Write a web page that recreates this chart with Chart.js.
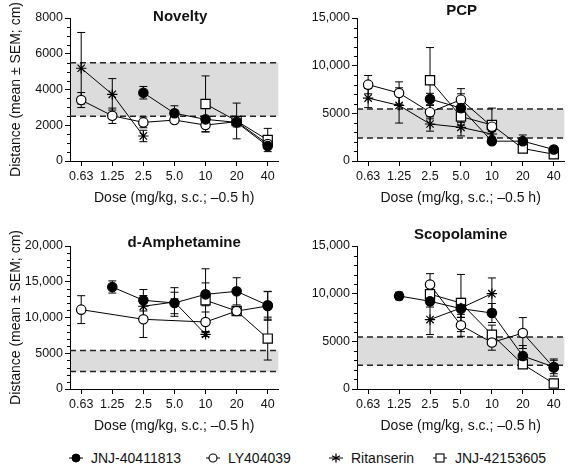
<!DOCTYPE html>
<html><head><meta charset="utf-8">
<script src="https://cdn.jsdelivr.net/npm/chart.js@4/dist/chart.umd.min.js"></script>
<style>
html,body{margin:0;padding:0;background:#fff;}
body{width:572px;height:468px;position:relative;overflow:hidden;font-family:"Liberation Sans",Arial,sans-serif;color:#111;}
.panel{position:absolute;width:286px;height:215px;}
.lg{position:absolute;top:449px;height:18px;display:flex;align-items:center;font-size:14px;white-space:nowrap;}
.lg svg{margin-right:5px;}
</style>
</head><body>
<div class="panel" style="left:0;top:0"><canvas id="c0" width="286" height="215"></canvas></div>
<div class="panel" style="left:286px;top:0"><canvas id="c1" width="286" height="215"></canvas></div>
<div class="panel" style="left:0;top:228px"><canvas id="c2" width="286" height="215"></canvas></div>
<div class="panel" style="left:286px;top:228px"><canvas id="c3" width="286" height="215"></canvas></div>
<div id="legend"></div>
<script>
// ---------- data ----------
const doses = ['0.63', '1.25', '2.5', '5.0', '10', '20', '40'];
const seriesNames = ['JNJ-40411813', 'LY404039', 'Ritanserin', 'JNJ-42153605'];
const panelTitles = ['Novelty', 'PCP', 'd-Amphetamine', 'Scopolamine'];
const xTitle = 'Dose (mg/kg, s.c.; \u20130.5 h)';
const yTitle = 'Distance (mean \u00b1 SEM; cm)';

// Novelty
const noveltyJNJ40411813    = [null, null, 3820, 2670, 2330, 2160, 840];
const noveltyJNJ40411813Sem = [null, null, 350, 420, 150, 250, 100];
const noveltyLY404039       = [3410, 2530, 2160, 2290, 2010, 2200, 950];
const noveltyLY404039Sem    = [420, 430, 300, 100, 370, 200, 150];
const noveltyRitanserin     = [5190, 3730, 1400, null, null, null, null];
const noveltyRitanserinSem  = [2000, 880, 320, null, null, null, null];
const noveltyJNJ42153605    = [null, null, null, null, 3190, 2240, 1175];
const noveltyJNJ42153605Sem = [null, null, null, null, 1570, 1000, 650];
const noveltyBand = [2500, 5500];

// PCP
const pcpJNJ40411813    = [null, null, 6500, 5550, 2080, 2080, 1200];
const pcpJNJ40411813Sem = [null, null, 600, 1500, 200, 650, 150];
const pcpLY404039       = [8010, 7130, 5120, 6430, 3600, null, null];
const pcpLY404039Sem    = [960, 1170, 700, 1160, 500, null, null];
const pcpRitanserin     = [6600, 5830, 3880, 3530, 2830, null, null];
const pcpRitanserinSem  = [1000, 1850, 750, 900, 400, null, null];
const pcpJNJ42153605    = [null, null, 8470, 4660, 3780, 1310, 710];
const pcpJNJ42153605Sem = [null, null, 3430, 900, 1770, 200, 150];
const pcpBand = [2400, 5450];

// d-Amphetamine
const amphJNJ40411813    = [null, 14270, 12410, 12030, 13240, 13660, 11710];
const amphJNJ40411813Sem = [null, 850, 1500, 1500, 1600, 1900, 1950];
const amphLY404039       = [11100, null, 9750, null, 9370, 10900, 11610];
const amphLY404039Sem    = [1950, null, 2550, null, 1400, 600, 2000];
const amphRitanserin     = [null, null, 11570, 12170, 7650, null, null];
const amphRitanserinSem  = [null, null, 1500, 2000, 300, null, null];
const amphJNJ42153605    = [null, null, null, null, 12410, 10910, 7050];
const amphJNJ42153605Sem = [null, null, null, null, 4400, 600, 3000];
const amphBand = [2450, 5400];

// Scopolamine
const scopJNJ40411813    = [null, 9760, 9200, 8430, 7970, 3460, 2310];
const scopJNJ40411813Sem = [null, 400, 600, 900, 1000, 1100, 700];
const scopLY404039       = [null, null, 10950, 6680, 4870, 5870, 2250];
const scopLY404039Sem    = [null, null, 1150, 1150, 800, 1620, 900];
const scopRitanserin     = [null, null, 7280, 8500, 10000, null, null];
const scopRitanserinSem  = [null, null, 1570, 1000, 1650, null, null];
const scopJNJ42153605    = [null, null, 9950, 9020, 5700, 2590, 570];
const scopJNJ42153605Sem = [null, null, 1000, 3000, 1000, 400, 200];
const scopBand = [2500, 5450];

// y-axis ranges: [max, major step, minor step]
const yAxisNovelty = [8000, 2000, 500];
const yAxisPcp     = [15000, 5000, 1000];
const yAxisAmph    = [20000, 5000, 1000];
const yAxisScop    = [15000, 5000, 1000];

// ---------- styling ----------
const FONT = "'Liberation Sans', Arial, Helvetica, sans-serif";
Chart.defaults.font.family = FONT;
Chart.defaults.color = '#111';
const seriesStyles = [
  { pointStyle: 'circle', pointRadius: 4.7, pointBackgroundColor: '#000' },
  { pointStyle: 'circle', pointRadius: 4.7, pointBackgroundColor: '#fff' },
  { pointStyle: 'star',   pointRadius: 5.2, pointBackgroundColor: '#000' },
  { pointStyle: 'rect',   pointRadius: 6.5, pointBackgroundColor: '#fff' }
];

const fmt = v => v >= 10000 ? v.toLocaleString('en-US') : String(v);

const panelPlugin = {
  id: 'panelExtras',
  beforeDatasetsDraw(chart, args, opts) {
    const { ctx, chartArea: a, scales: { x, y } } = chart;
    ctx.save();
    // vehicle band
    const yHi = y.getPixelForValue(opts.band[1]);
    const yLo = y.getPixelForValue(opts.band[0]);
    ctx.fillStyle = '#dcdcdc';
    ctx.fillRect(a.left + 1, yHi, a.right - a.left - 1, yLo - yHi);
    ctx.strokeStyle = '#222';
    ctx.lineWidth = 1.5;
    ctx.setLineDash([6, 4]);
    [yHi, yLo].forEach(py => {
      ctx.beginPath(); ctx.moveTo(a.left, py); ctx.lineTo(a.right, py); ctx.stroke();
    });
    ctx.setLineDash([]);
    // error bars
    ctx.strokeStyle = '#000';
    ctx.lineWidth = 1;
    chart.data.datasets.forEach(ds => {
      ds.data.forEach(p => {
        const s = ds.sem[p.x];
        if (s == null) return;
        const px = x.getPixelForValue(p.x);
        const pt = y.getPixelForValue(p.y + s);
        const pb = y.getPixelForValue(Math.max(0, p.y - s));
        ctx.beginPath();
        ctx.moveTo(px, pt); ctx.lineTo(px, pb);
        ctx.moveTo(px - 4, pt); ctx.lineTo(px + 4, pt);
        ctx.moveTo(px - 4, pb); ctx.lineTo(px + 4, pb);
        ctx.stroke();
      });
    });
    ctx.restore();
  },
  afterDraw(chart, args, opts) {
    const { ctx, chartArea: a, scales: { y } } = chart;
    ctx.save();
    // minor ticks on y axis
    ctx.strokeStyle = '#000';
    ctx.lineWidth = 1;
    for (let v = 0; v <= opts.yAxis[0]; v += opts.yAxis[2]) {
      if (v % opts.yAxis[1] === 0) continue;
      const py = Math.round(y.getPixelForValue(v)) + 0.5;
      ctx.beginPath(); ctx.moveTo(a.left - 3, py); ctx.lineTo(a.left, py); ctx.stroke();
    }
    // panel title
    ctx.fillStyle = '#111';
    ctx.font = 'bold 15px ' + FONT;
    ctx.textAlign = 'center';
    ctx.textBaseline = 'alphabetic';
    ctx.fillText(opts.title, (a.left + a.right) / 2 + opts.titleDx, a.top + opts.titleDy);
    ctx.restore();
  }
};

function makePanel(canvasId, title, titleDx, titleDy, yAxis, band, showYTitle, axisWidth, means, sems) {
  const datasets = means.map((m, k) => ({
    label: seriesNames[k],
    data: m.map((v, i) => v == null ? null : { x: i, y: v }).filter(p => p),
    sem: sems[k],
    borderColor: '#000',
    borderWidth: 1,
    pointBorderColor: '#000',
    pointBorderWidth: 1.2,
    pointHoverRadius: seriesStyles[k].pointRadius,
    tension: 0,
    fill: false,
    ...seriesStyles[k]
  }));
  return new Chart(document.getElementById(canvasId), {
    type: 'line',
    data: { datasets },
    plugins: [panelPlugin],
    options: {
      responsive: false,
      animation: false,
      events: [],
      layout: { padding: { top: 18, right: 2, left: 0, bottom: 0 } },
      plugins: {
        legend: { display: false },
        tooltip: { enabled: false },
        panelExtras: { title, titleDx, titleDy, band, yAxis }
      },
      scales: {
        x: {
          type: 'linear',
          min: -0.36, max: 6.34,
          afterBuildTicks: s => { s.ticks = doses.map((d, i) => ({ value: i })); },
          afterFit: s => { s.height = 54; },
          ticks: { callback: v => doses[v], autoSkip: false, maxRotation: 0,
                   font: { size: 12.5 }, color: '#111', padding: 3 },
          grid: { display: true, drawOnChartArea: false, drawTicks: true, tickLength: 5, color: '#000' },
          border: { display: true, color: '#000', width: 1 },
          title: { display: true, text: xTitle, font: { size: 14 }, color: '#111',
                   padding: { top: 0, bottom: 8.6 } }
        },
        y: {
          type: 'linear',
          min: 0, max: yAxis[0],
          afterBuildTicks: s => {
            const t = [];
            for (let v = 0; v <= yAxis[0]; v += yAxis[1]) t.push({ value: v });
            s.ticks = t;
          },
          afterFit: s => { s.width = axisWidth; },
          ticks: { callback: v => fmt(v), font: { size: 12.5 }, color: '#111', padding: 2 },
          grid: { display: true, drawOnChartArea: false, drawTicks: true, tickLength: 5, color: '#000' },
          border: { display: true, color: '#000', width: 1 },
          title: { display: showYTitle, text: yTitle, font: { size: 14 }, color: '#111',
                   padding: { top: 8, bottom: 0 } }
        }
      }
    }
  });
}

makePanel('c0', panelTitles[0], 6, 2.7, yAxisNovelty, noveltyBand, true, 70,
  [noveltyJNJ40411813, noveltyLY404039, noveltyRitanserin, noveltyJNJ42153605],
  [noveltyJNJ40411813Sem, noveltyLY404039Sem, noveltyRitanserinSem, noveltyJNJ42153605Sem]);
makePanel('c1', panelTitles[1], 1, -3, yAxisPcp, pcpBand, false, 71,
  [pcpJNJ40411813, pcpLY404039, pcpRitanserin, pcpJNJ42153605],
  [pcpJNJ40411813Sem, pcpLY404039Sem, pcpRitanserinSem, pcpJNJ42153605Sem]);
makePanel('c2', panelTitles[2], 10, 0.7, yAxisAmph, amphBand, true, 70,
  [amphJNJ40411813, amphLY404039, amphRitanserin, amphJNJ42153605],
  [amphJNJ40411813Sem, amphLY404039Sem, amphRitanserinSem, amphJNJ42153605Sem]);
makePanel('c3', panelTitles[3], 0, -6.7, yAxisScop, scopBand, false, 71,
  [scopJNJ40411813, scopLY404039, scopRitanserin, scopJNJ42153605],
  [scopJNJ40411813Sem, scopLY404039Sem, scopRitanserinSem, scopJNJ42153605Sem]);

// ---------- legend ----------
const legendLefts = [66, 203, 326, 430];
const markerSvg = [
  '<circle cx="10" cy="8" r="4" fill="#000" stroke="#000"/>',
  '<circle cx="10" cy="8" r="4" fill="#fff" stroke="#000" stroke-width="1.1"/>',
  '<g stroke="#000" stroke-width="1.3"><line x1="10" y1="3.5" x2="10" y2="12.5"/><line x1="6.1" y1="5.7" x2="13.9" y2="10.3"/><line x1="6.1" y1="10.3" x2="13.9" y2="5.7"/></g>',
  '<rect x="6" y="4" width="8" height="8" fill="#fff" stroke="#000" stroke-width="1.1"/>'
];
const lg = document.getElementById('legend');
seriesNames.forEach((name, k) => {
  const d = document.createElement('div');
  d.className = 'lg';
  d.style.left = legendLefts[k] + 'px';
  d.innerHTML = '<svg width="20" height="16" viewBox="0 0 20 16"><line x1="3" y1="8" x2="17" y2="8" stroke="#000" stroke-width="1"/>' +
    markerSvg[k] + '</svg><span>' + name + '</span>';
  lg.appendChild(d);
});
</script>
</body></html>
